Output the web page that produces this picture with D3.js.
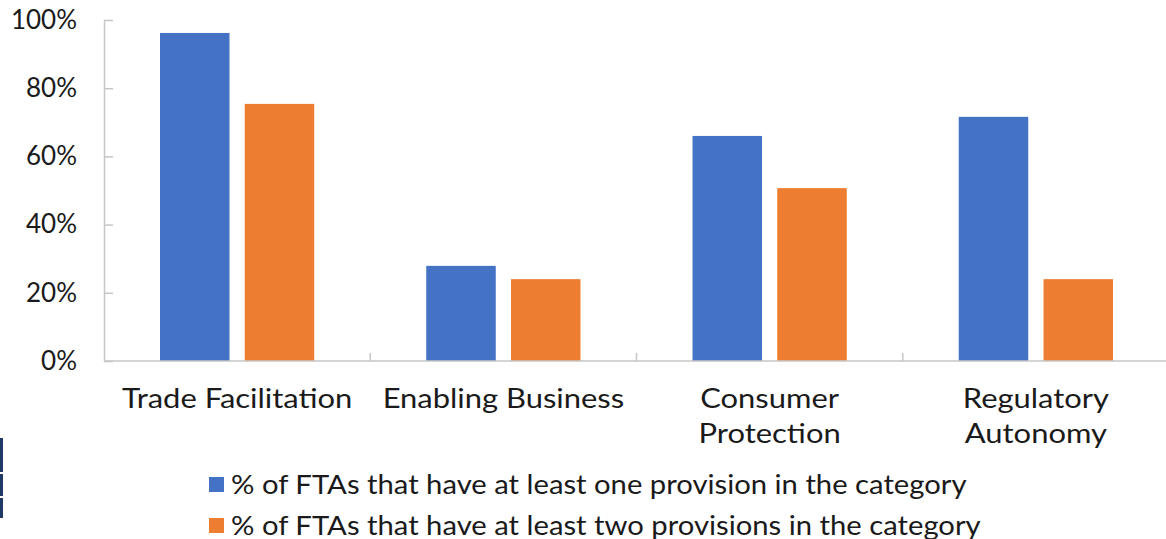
<!DOCTYPE html>
<html>
<head>
<meta charset="utf-8">
<script src="https://cdn.jsdelivr.net/npm/d3@7"></script>
<style>
  html, body { margin: 0; padding: 0; background: #ffffff; }
  svg { display: block; }
  text { font-family: "Century Gothic", "Lato", "DejaVu Sans", sans-serif; fill: #1a1a1a; }
</style>
</head>
<body>
<svg id="chart" width="1166" height="539"></svg>
<script>
// Categories of digital-trade provisions in FTAs
const categories = ["Trade Facilitation", "Enabling Business", "Consumer Protection", "Regulatory Autonomy"];
const categoryLines = [["Trade Facilitation"], ["Enabling Business"], ["Consumer", "Protection"], ["Regulatory", "Autonomy"]];

// Share of FTAs with provisions in each category
const seriesNames = [
  "% of FTAs that have at least one provision in the category",
  "% of FTAs that have at least two provisions in the category"
];
const atLeastOne = [0.962, 0.279, 0.660, 0.716];
const atLeastTwo = [0.754, 0.240, 0.507, 0.240];
const seriesColors = ["#4472C4", "#ED7D31"];

const yTicks = [0, 0.2, 0.4, 0.6, 0.8, 1.0];

const svg = d3.select("#chart");
const plotLeft = 104, plotRight = 1169, plotTop = 20, plotBottom = 361;
const axisColor = "#c6c6c6";
// Wide geometric lettering: stretch the fallback face horizontally
const catStretch = 1.19, legendStretch = 1.125;

const x0 = d3.scaleBand().domain(categories).range([plotLeft, plotRight]).padding(0);
const groupInset = 56;
const x1 = d3.scaleBand().domain([0, 1])
  .range([groupInset, x0.bandwidth() - groupInset])
  .paddingInner(0.18);
const y = d3.scaleLinear().domain([0, 1]).range([plotBottom, plotTop]);

const series = [atLeastOne, atLeastTwo];

// Bars
const groups = svg.append("g").selectAll("g")
  .data(categories)
  .join("g")
  .attr("transform", d => `translate(${x0(d)},0)`);

groups.selectAll("rect")
  .data((d, i) => series.map((s, k) => ({ k, v: s[i] })))
  .join("rect")
  .attr("x", d => x1(d.k))
  .attr("width", x1.bandwidth())
  .attr("y", d => y(d.v))
  .attr("height", d => y(0) - y(d.v))
  .attr("fill", d => seriesColors[d.k]);

// Y axis
const yAxis = d3.axisLeft(y)
  .tickValues(yTicks)
  .tickFormat(d3.format(".0%"))
  .tickSizeInner(-9)
  .tickSizeOuter(0)
  .tickPadding(27);

const yG = svg.append("g").attr("transform", `translate(${plotLeft},0)`).call(yAxis);
yG.select(".domain").attr("stroke", axisColor).attr("stroke-width", 1.5);
yG.selectAll(".tick line").attr("stroke", axisColor).attr("stroke-width", 1.5);
yG.attr("font-family", null).attr("font-size", null);
yG.selectAll(".tick text")
  .attr("font-size", 26)
  .attr("fill", "#1a1a1a");

// X axis baseline and category dividers
svg.append("line")
  .attr("x1", plotLeft).attr("x2", plotRight)
  .attr("y1", y(0)).attr("y2", y(0))
  .attr("stroke", axisColor).attr("stroke-width", 1.5);

const dividers = categories.map(c => x0(c) + x0.bandwidth()).slice(0, -1);
svg.append("g").selectAll("line")
  .data(dividers)
  .join("line")
  .attr("x1", d => d).attr("x2", d => d)
  .attr("y1", y(0)).attr("y2", y(0) - 8)
  .attr("stroke", axisColor).attr("stroke-width", 1.5);

// Category labels
const catG = svg.append("g");
categories.forEach((c, i) => {
  const cx = x0(c) + x0.bandwidth() / 2;
  const t = catG.append("text")
    .attr("transform", `translate(${cx},408) scale(${catStretch},1)`)
    .attr("text-anchor", "middle")
    .attr("font-size", 26);
  categoryLines[i].forEach((line, j) => {
    t.append("tspan")
      .attr("x", 0)
      .attr("dy", j === 0 ? 0 : 35)
      .text(line);
  });
});

// Legend
const legend = svg.append("g").attr("transform", "translate(209,477)");
seriesNames.forEach((name, k) => {
  const row = legend.append("g").attr("transform", `translate(0,${k * 41})`);
  row.append("rect").attr("width", 15).attr("height", 15).attr("fill", seriesColors[k]);
  row.append("text")
    .attr("transform", `translate(22,17) scale(${legendStretch},1)`)
    .attr("font-size", 26)
    .text(name);
});

// Edge rule on the left margin
const edge = svg.append("g").attr("fill", "#1f3864");
[[438, 472], [474, 496], [498, 518]].forEach(([a, b]) => {
  edge.append("rect").attr("x", 0).attr("y", a).attr("width", 3).attr("height", b - a);
});
</script>
</body>
</html>
